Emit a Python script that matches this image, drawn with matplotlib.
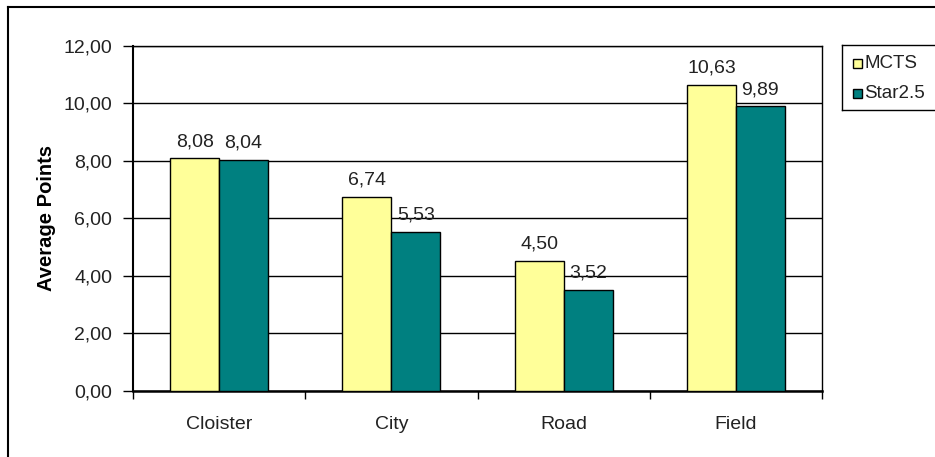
import matplotlib.pyplot as plt
from matplotlib.patches import Rectangle
from matplotlib.lines import Line2D
import numpy as np

categories = ['Cloister', 'City', 'Road', 'Field']
mcts = [8.08, 6.74, 4.50, 10.63]
star = [8.04, 5.53, 3.52, 9.89]
series_names = ['MCTS', 'Star2.5']
yticks = [0, 2, 4, 6, 8, 10, 12]

YELLOW = '#FFFF99'
TEAL = '#008080'
TXT = '#222222'
FS = 14


def comma(v):
    return f'{v:.2f}'.replace('.', ',')


W, H = 935, 457
plt.rcParams['font.family'] = 'Liberation Sans'
fig = plt.figure(figsize=(W / 100, H / 100), dpi=100)

# outer chart border (cut off at right and bottom)
fig.add_artist(Line2D([8 / W, 1.0], [1 - 7 / H, 1 - 7 / H], color='black', lw=1.5,
                      transform=fig.transFigure))
fig.add_artist(Line2D([8 / W, 8 / W], [1 - 7 / H, 0.0], color='black', lw=1.5,
                      transform=fig.transFigure))

left, right, top, bottom = 133, 822, 45.7, 390.7
ax = fig.add_axes([left / W, 1 - bottom / H, (right - left) / W, (bottom - top) / H])

x = np.arange(len(categories))
bw = 0.284
b1 = ax.bar(x - bw / 2, mcts, bw, color=YELLOW, edgecolor='black', lw=1, zorder=3)
b2 = ax.bar(x + bw / 2, star, bw, color=TEAL, edgecolor='black', lw=1, zorder=3)

for bars, vals in ((b1, mcts), (b2, star)):
    for b, v in zip(bars, vals):
        ax.annotate(comma(v), (b.get_x() + b.get_width() / 2, v), xytext=(0, 6),
                    textcoords='offset points', ha='center', va='bottom',
                    fontsize=FS, color=TXT)

ax.set_xlim(-0.5, len(categories) - 0.5)
ax.set_ylim(0, 12)
ax.set_yticks(yticks)
ax.set_yticklabels([comma(v) for v in yticks], fontsize=FS, color=TXT)
ax.yaxis.grid(True, color='black', lw=1, zorder=0)

ax.set_xticks(np.arange(len(categories) + 1) - 0.5)
ax.set_xticklabels([])
ax.set_xticks(x, minor=True)
ax.set_xticklabels(categories, minor=True, fontsize=FS, color=TXT)
ax.tick_params(axis='x', which='major', length=6, width=1, direction='out')
ax.tick_params(axis='x', which='minor', length=0, pad=18)
ax.tick_params(axis='y', length=7, width=1, direction='out', pad=8)

for s in ax.spines.values():
    s.set_linewidth(1)
ax.spines['bottom'].set_linewidth(1.8)
ax.spines['left'].set_linewidth(1.5)

ax.set_ylabel('Average Points', fontsize=14.5, fontweight='bold', labelpad=5)

# legend box, running off the right edge
lax = fig.add_axes([842 / W, 1 - 110 / H, 120 / W, 65 / H])
lax.set_xlim(0, 120)
lax.set_ylim(65, 0)
lax.set_xticks([])
lax.set_yticks([])
for s in lax.spines.values():
    s.set_linewidth(1)
for i, (name, col) in enumerate(zip(series_names, [YELLOW, TEAL])):
    yc = 18 + i * 30
    lax.add_patch(Rectangle((11, yc - 4.5), 9, 9, facecolor=col, edgecolor='black', lw=1))
    lax.text(22, yc, name, va='center', ha='left', fontsize=13.5, color=TXT)

fig.savefig('out.png', dpi=100)
